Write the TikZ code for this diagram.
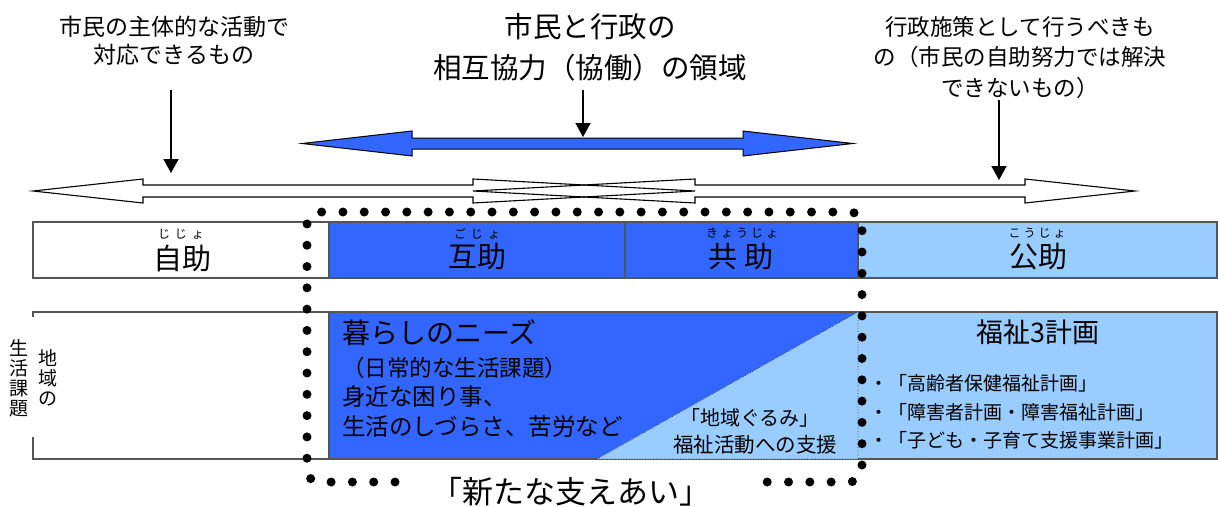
\documentclass[tikz,border=0pt]{standalone}
\usepackage{fontspec}
\setmainfont{Noto Sans CJK JP}
\usetikzlibrary{arrows.meta}
\definecolor{bblue}{HTML}{3366FF}
\definecolor{lblue}{HTML}{99CCFF}
\definecolor{edgegray}{HTML}{555555}
\newcommand{\fsz}[1]{\fontsize{#1}{#1}\selectfont}
\begin{document}
\begin{tikzpicture}[x=1pt,y=-1pt,
  txt/.style={inner sep=0pt, outer sep=0pt, text=black},
  warrow/.style={draw=black, line width=1.1pt, line join=miter},
  barrow/.style={fill=bblue, draw=black, line width=1pt, line join=miter},
  downarr/.style={line width=1.7pt, -{Triangle[length=14pt,width=15pt]}},
  cell/.style={draw=edgegray, line width=1.3pt},
  dotframe/.style={line width=9pt, line cap=round, dash pattern=on 0pt off 21.3pt, rounded corners=12pt},
  tri/.style={draw=black!80, line width=0.7pt, dotted}]
\useasboundingbox (0,0) rectangle (1218,506);

% ---- top texts
\node[txt, align=center, font=\fontsize{23}{28}\selectfont] (tl) at (174,41) {市民の主体的な活動で\\対応できるもの};
\node[txt, align=center, font=\fontsize{28.5}{41}\selectfont] (tc) at (590,47.5) {市民と行政の\\相互協力（協働）の領域};
\node[txt, align=center, font=\fontsize{22.5}{30.5}\selectfont] (tr) at (1020,57.5) {行政施策として行うべきも\\の（市民の自助努力では解決\\できないもの）};

% ---- blue double arrow
\path[barrow] (302,143.5) -- (412,131) -- (412,138) -- (743,138) -- (743,131) -- (853,143.5)
  -- (743,156) -- (743,149) -- (412,149) -- (412,156) -- cycle;

% ---- white crossing arrows
\path[fill=white] (33,191) -- (143,179) -- (143,185) -- (473,185) -- (473,179) -- (695,191)
  -- (473,203) -- (473,197) -- (143,197) -- (143,203) -- cycle;
\path[fill=white] (473,191) -- (695,179) -- (695,185) -- (1025,185) -- (1025,179) -- (1135,191)
  -- (1025,203) -- (1025,197) -- (695,197) -- (695,203) -- cycle;
\draw[warrow] (33,191) -- (143,179) -- (143,185) -- (473,185) -- (473,179) -- (695,191)
  -- (473,203) -- (473,197) -- (143,197) -- (143,203) -- cycle;
\draw[warrow] (473,191) -- (695,179) -- (695,185) -- (1025,185) -- (1025,179) -- (1135,191)
  -- (1025,203) -- (1025,197) -- (695,197) -- (695,203) -- cycle;

% ---- down arrows
\coordinate (a1s) at (171,90);  \coordinate (a1e) at (171,173);
\coordinate (a2s) at (583,90);  \coordinate (a2e) at (583,137);
\coordinate (a3s) at (999,100); \coordinate (a3e) at (999,180);
\draw[downarr] (a1s) -- (a1e);
\draw[downarr] (a2s) -- (a2e);
\draw[downarr] (a3s) -- (a3e);

% ---- top row cells
\draw[cell, fill=white] (33,222) rectangle (329,278);
\draw[cell, fill=bblue] (329,222) rectangle (858,278);
\draw[cell] (625,222) -- (625,278);
\draw[cell, fill=lblue] (858,222) rectangle (1217,278);

\node[txt, font=\fsz{29}] (jijo) at (182,258) {自助};
\node[txt, font=\fsz{12}] (jijor) at (181,234) {じ\hspace{5pt}じ\hspace{5pt}ょ};
\node[txt, font=\fsz{29}] (gojo) at (477,257) {互助};
\node[txt, font=\fsz{12}] (gojor) at (477,234) {ご\hspace{5pt}じ\hspace{5pt}ょ};
\node[txt, font=\fsz{29}] (kyojo) at (741,257) {共\hspace{7pt}助};
\node[txt, font=\fsz{12}] (kyojor) at (742,233) {き\hspace{3pt}ょ\hspace{3pt}う\hspace{3pt}じ\hspace{3pt}ょ};
\node[txt, font=\fsz{29}] (kojo) at (1038,257) {公助};
\node[txt, font=\fsz{12}] (kojor) at (1037,233) {こ\hspace{3pt}う\hspace{3pt}じ\hspace{3pt}ょ};

% ---- bottom row
\draw[cell] (33,317) -- (33,312) -- (329,312);
\draw[cell] (33,437) -- (33,459) -- (329,459);
\fill[bblue] (329,312) rectangle (858,459);
\draw[cell] (858,312) -- (329,312) -- (329,459) -- (858,459);
\fill[lblue] (858,312) rectangle (1217,459);
\draw[cell] (858,312) -- (1217,312) -- (1217,459) -- (858,459);
\fill[lblue] (597,459) -- (858,312) -- (858,459) -- cycle;
\draw[tri] (597,459) -- (858,312) -- (858,459) -- cycle;

\node[txt, align=center, font=\fontsize{19}{20}\selectfont] (seikatsu) at (19,378) {生\\活\\課\\題};
\node[txt, align=center, font=\fontsize{19}{20}\selectfont] (chiiki) at (48,378) {地\\域\\の};

\node[txt, anchor=west, font=\fsz{28}] (needs) at (342,333) {暮らしのニーズ};
\node[txt, anchor=west, font=\fsz{22.5}] (nd1) at (342,368) {（日常的な生活課題）};
\node[txt, anchor=west, font=\fsz{23.5}] (nd2) at (342,397) {身近な困り事、};
\node[txt, anchor=west, font=\fsz{23.5}] (nd3) at (342,427) {生活のしづらさ、苦労など};

\node[txt, font=\fsz{20}] (gurumi) at (750,418) {「地域ぐるみ」};
\node[txt, font=\fsz{20.5}] (shien) at (755,445) {福祉活動への支援};

\node[txt, font=\fsz{27}] (keikaku) at (1038,332) {福祉3計画};
\node[txt, anchor=west, font=\fsz{19}] (k1) at (869,383) {・「高齢者保健福祉計画」};
\node[txt, anchor=west, font=\fsz{19}] (k2) at (869,412) {・「障害者計画・障害福祉計画」};
\node[txt, anchor=west, font=\fsz{19}] (k3) at (869,440) {・「子ども・子育て支援事業計画」};

% ---- dotted frame
\draw[dotframe] (395,482) -- (307,482) -- (307,212) -- (862,212) -- (862,482) -- (757,482);
\node[txt, font=\fsz{31}] (arata) at (571,492) {「新たな支えあい」};
\end{tikzpicture}
\end{document}
